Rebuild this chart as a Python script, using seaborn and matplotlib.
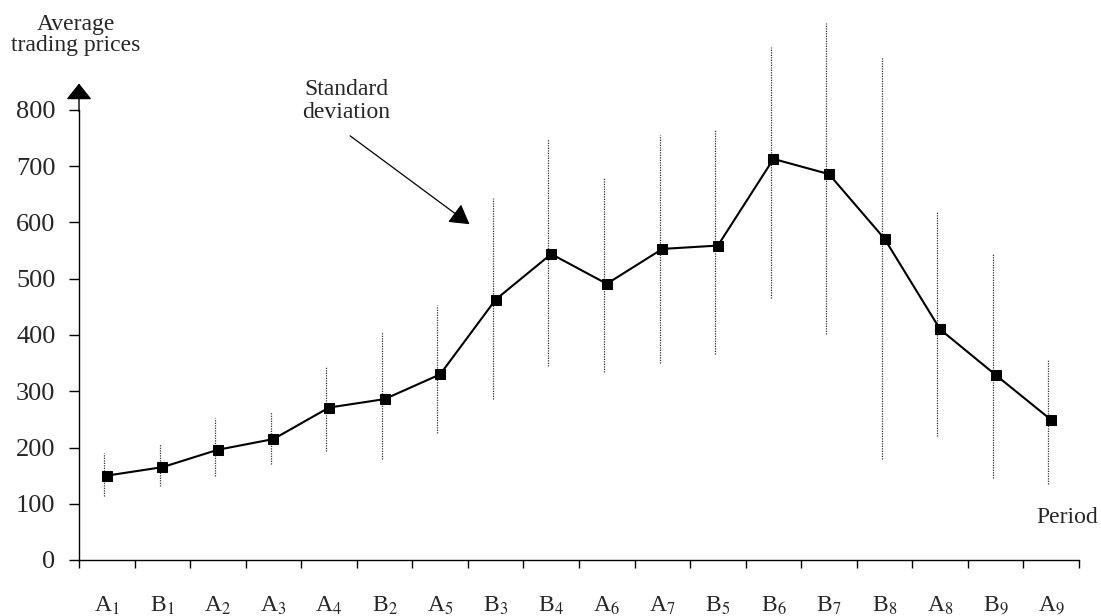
import numpy as np
import pandas as pd
import matplotlib
matplotlib.use("Agg")
import matplotlib.pyplot as plt
import seaborn as sns

periods = ['A$_1$', 'B$_1$', 'A$_2$', 'A$_3$', 'A$_4$', 'B$_2$', 'A$_5$', 'B$_3$', 'B$_4$',
           'A$_6$', 'A$_7$', 'B$_5$', 'B$_6$', 'B$_7$', 'B$_8$', 'A$_8$', 'B$_9$', 'A$_9$']
avg_price = [150, 165, 196, 215, 271, 286, 330, 463, 544,
             491, 553, 559, 713, 686, 571, 410, 329, 249]
sd_low = [113, 132, 150, 171, 194, 180, 225, 287, 345,
          335, 350, 366, 465, 401, 180, 220, 145, 135]
sd_high = [190, 207, 252, 263, 344, 405, 453, 643, 748,
           679, 756, 766, 912, 955, 894, 621, 544, 358]
y_ticks = [0, 100, 200, 300, 400, 500, 600, 700, 800]

df = pd.DataFrame({'pos': np.arange(len(periods)), 'price': avg_price,
                   'low': sd_low, 'high': sd_high})

sns.set_style('white')
plt.rcParams['font.family'] = ['Liberation Serif', 'DejaVu Serif']
plt.rcParams['mathtext.fontset'] = 'stix'

fig = plt.figure(figsize=(11.01, 6.16), dpi=100)
ax = fig.add_axes([79 / 1101, 1 - 560 / 616, 1000 / 1101, 450 / 616])

# standard deviation ranges, dotted
ax.vlines(df['pos'] - 0.05, df['low'], df['high'], colors='#333333',
          linestyles=(0, (1, 1)), linewidth=0.9, clip_on=False, zorder=1)

sns.lineplot(data=df, x='pos', y='price', ax=ax, color='black', linewidth=1.5,
             marker='s', markersize=6.5, markeredgecolor='black', sort=False, zorder=3)

ax.set_xlim(-0.5, len(periods) - 0.5)
ax.set_ylim(0, 800)
ax.set_xlabel('')
ax.set_ylabel('')

# ticks at boundaries, labels centred in between
ax.set_xticks(np.arange(-0.5, len(periods)), labels=[''] * (len(periods) + 1))
ax.set_xticks(np.arange(len(periods)), labels=periods, minor=True)
ax.tick_params(axis='x', which='major', direction='out', length=6, width=1,
               color='black', bottom=True)
ax.tick_params(axis='x', which='minor', length=0, pad=25, labelsize=17)
ax.set_yticks(y_ticks)
ax.tick_params(axis='y', direction='out', length=7, width=1, color='black',
               left=True, pad=10, labelsize=19)

for s in ['top', 'right']:
    ax.spines[s].set_visible(False)
for s in ['left', 'bottom']:
    ax.spines[s].set_color('black')
    ax.spines[s].set_linewidth(1)

# arrow on top of y axis
ax.annotate('', xy=(0, 1.065), xytext=(0, 0.99), xycoords='axes fraction',
            arrowprops=dict(arrowstyle='-|>,head_length=0.5,head_width=0.4',
                            color='black', lw=1, mutation_scale=20))

fig.text(76 / 1101, 1 - 35 / 616, 'Average\ntrading prices', ha='center', va='center',
         fontsize=17, linespacing=1.05)
fig.text(346 / 1101, 1 - 101 / 616, 'Standard\ndeviation', ha='center', va='center',
         fontsize=17, linespacing=1.1)
ax.annotate('', xy=(6.57, 594), xytext=(4.34, 757), xycoords='data',
            arrowprops=dict(arrowstyle='-|>,head_length=0.6,head_width=0.35',
                            color='black', lw=0.9, mutation_scale=20),
            annotation_clip=False)
ax.text(16.74, 76, 'Period', ha='left', va='center', fontsize=17)

fig.savefig('out.png', dpi=100)
